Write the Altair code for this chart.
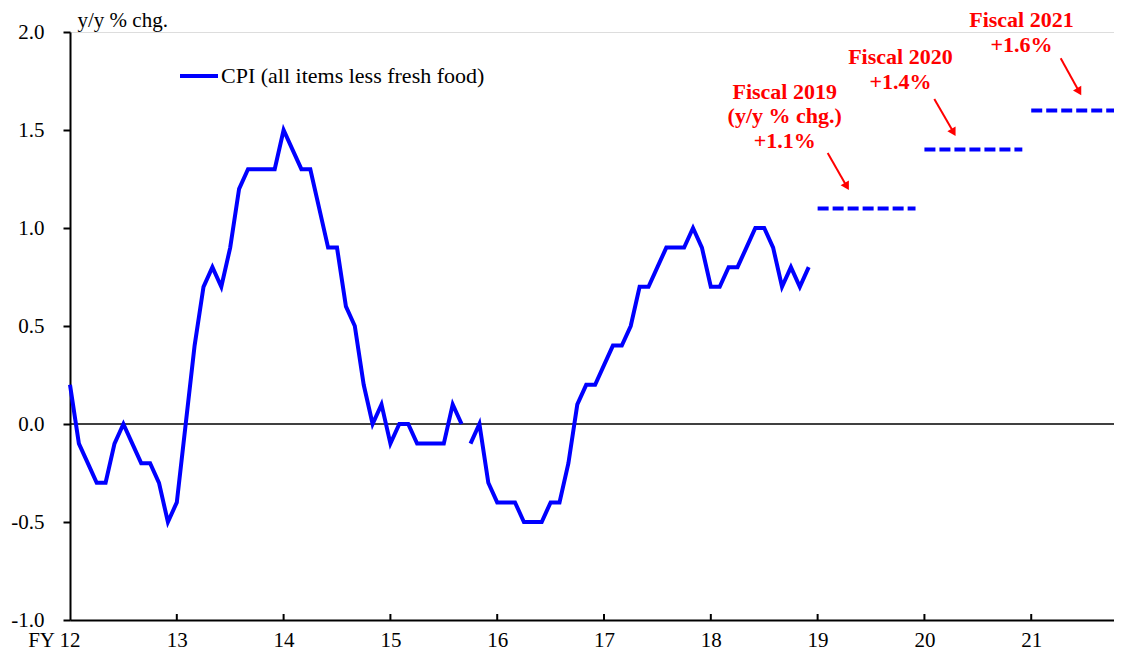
import altair as alt
import pandas as pd

# ---- data ----
cpi = [0.2, -0.1, -0.2, -0.3, -0.3, -0.1, 0.0, -0.1, -0.2, -0.2, -0.3, -0.5,
       -0.4, 0.0, 0.4, 0.7, 0.8, 0.7, 0.9, 1.2, 1.3, 1.3, 1.3, 1.3,
       1.5, 1.4, 1.3, 1.3, 1.1, 0.9, 0.9, 0.6, 0.5, 0.2, 0.0, 0.1,
       -0.1, 0.0, 0.0, -0.1, -0.1, -0.1, -0.1, 0.1, 0.0,
       -0.1, 0.0, -0.3,
       -0.4, -0.4, -0.4, -0.5, -0.5, -0.5, -0.4, -0.4, -0.2, 0.1, 0.2, 0.2,
       0.3, 0.4, 0.4, 0.5, 0.7, 0.7, 0.8, 0.9, 0.9, 0.9, 1.0, 0.9,
       0.7, 0.7, 0.8, 0.8, 0.9, 1.0, 1.0, 0.9, 0.7, 0.8, 0.7, 0.8]
series_restart = 45  # the line is broken before this month

year_labels = ["FY 12", "13", "14", "15", "16", "17", "18", "19", "20", "21"]
year_start_month = [0, 12, 24, 36, 48, 60, 72, 84, 96, 108]
y_ticks = [-1.0, -0.5, 0.0, 0.5, 1.0, 1.5, 2.0]

forecast_name = ["Fiscal 2019", "Fiscal 2020", "Fiscal 2021"]
forecast_start = [84, 96, 108]
forecast_end = [95, 107, 119]
forecast_value = [1.1, 1.4, 1.6]

ann_text = ["Fiscal 2019", "(y/y % chg.)", "+1.1%", "Fiscal 2020", "+1.4%", "Fiscal 2021", "+1.6%"]
ann_x = [80.3, 80.3, 80.3, 93.3, 93.3, 106.9, 106.9]
ann_y = [1.658, 1.534, 1.406, 1.837, 1.711, 2.027, 1.899]

arrow_x1 = [85.13, 97.11, 111.31]
arrow_y1 = [1.383, 1.658, 1.866]
arrow_x2 = [87.28, 99.27, 113.39]
arrow_y2 = [1.212, 1.488, 1.695]

legend_label = "CPI (all items less fresh food)"

# ---- tables ----
line_df = pd.DataFrame({
    "month": list(range(len(cpi))),
    "value": cpi,
    "segment": ["a" if i < series_restart else "b" for i in range(len(cpi))],
})
fc_df = pd.DataFrame({"name": forecast_name, "start": forecast_start,
                      "end": forecast_end, "value": forecast_value})
ann_df = pd.DataFrame({"text": ann_text, "x": ann_x, "y": ann_y})
arr_df = pd.DataFrame({"x1": arrow_x1, "y1": arrow_y1, "x2": arrow_x2, "y2": arrow_y2})
tick_df = pd.DataFrame({"m": year_start_month[1:]})

FONT = "Liberation Serif"
BLUE = "#0000FF"
RED = "#FF0000"

label_array = "[" + ",".join("'" + s + "'" for s in year_labels) + "]"

x_scale = alt.Scale(domain=[0, 117.3], nice=False, zero=False)
y_scale = alt.Scale(domain=[-1.0, 2.0], nice=False, zero=False)

x_axis = alt.Axis(
    values=year_start_month,
    labelExpr=label_array + "[round(datum.value / 12)]",
    ticks=False, grid=False, title=None,
    domainColor="black", domainWidth=2,
    labelFont=FONT, labelFontSize=21, labelColor="black",
    labelPadding=9, labelFlush=False, labelOverlap=False,
    labelAlign={"condition": {"test": "datum.value == 0", "value": "right"}, "value": "center"},
    labelOffset={"condition": {"test": "datum.value == 0", "value": 10}, "value": 0},
)
y_axis = alt.Axis(
    values=y_ticks,
    labelExpr="datum.value < 0 ? '-' + format(-datum.value, '.1f') : format(datum.value, '.1f')",
    grid=False, tickSize=7, tickWidth=2, tickColor="black",
    domainColor="black", domainWidth=2,
    labelFont=FONT, labelFontSize=21, labelColor="black", labelPadding=19,
    labelFlush=False,
    title="y/y % chg.", titleAngle=0, titleAlign="left", titleBaseline="alphabetic",
    titleX=7, titleY=-6, titleFont=FONT, titleFontSize=21, titleFontWeight="normal",
    titleColor="black",
)

base_line = alt.Chart(line_df).mark_line(
    color=BLUE, strokeWidth=4, strokeJoin="miter"
).encode(
    x=alt.X("month:Q", scale=x_scale, axis=x_axis),
    y=alt.Y("value:Q", scale=y_scale, axis=y_axis),
    detail="segment:N",
)

zero = alt.Chart(pd.DataFrame({"z": [0.0]})).mark_rule(color="black", strokeWidth=1.5).encode(
    y=alt.Y("z:Q", scale=y_scale)
)

forecast = alt.Chart(fc_df).mark_rule(
    color=BLUE, strokeWidth=4, strokeDash=[11, 4], clip=True
).encode(
    x=alt.X("start:Q", scale=x_scale),
    x2="end:Q",
    y=alt.Y("value:Q", scale=y_scale),
)

ticks = alt.Chart(tick_df).mark_rule(color="black", strokeWidth=2).encode(
    x=alt.X("m:Q", scale=x_scale),
    y=alt.value(588), y2=alt.value(582),
)

arrows = alt.Chart(arr_df).mark_rule(color=RED, strokeWidth=2).encode(
    x=alt.X("x1:Q", scale=x_scale), x2="x2:Q",
    y=alt.Y("y1:Q", scale=y_scale), y2="y2:Q",
)
heads = alt.Chart(arr_df).mark_point(
    shape="triangle-down", filled=True, color=RED, opacity=1, size=90, angle=330
).encode(
    x=alt.X("x2:Q", scale=x_scale),
    y=alt.Y("y2:Q", scale=y_scale),
)

ann = alt.Chart(ann_df).mark_text(
    font=FONT, fontSize=22, fontWeight="bold", color=RED,
    align="center", baseline="alphabetic", clip=False
).encode(
    x=alt.X("x:Q", scale=x_scale),
    y=alt.Y("y:Q", scale=y_scale),
    text="text:N",
)

legend_line = alt.Chart(pd.DataFrame({"k": [legend_label]})).mark_rule(
    color=BLUE, strokeWidth=4
).encode(x=alt.value(110), x2=alt.value(148), y=alt.value(44))
legend_text = alt.Chart(pd.DataFrame({"k": [legend_label]})).mark_text(
    font=FONT, fontSize=22, color="black", align="left", baseline="alphabetic"
).encode(x=alt.value(151), y=alt.value(50.5), text="k:N")

chart = alt.layer(
    zero, base_line, forecast, ticks, arrows, heads, ann, legend_line, legend_text
).properties(
    width=1044, height=588,
    padding={"left": 62, "top": 24, "right": 0, "bottom": 31},
    autosize=alt.AutoSizeParams(type="none"),
).configure_view(stroke=None).configure(background="white")

chart.save("out.html", embed_options={"renderer": "svg", "actions": False})
